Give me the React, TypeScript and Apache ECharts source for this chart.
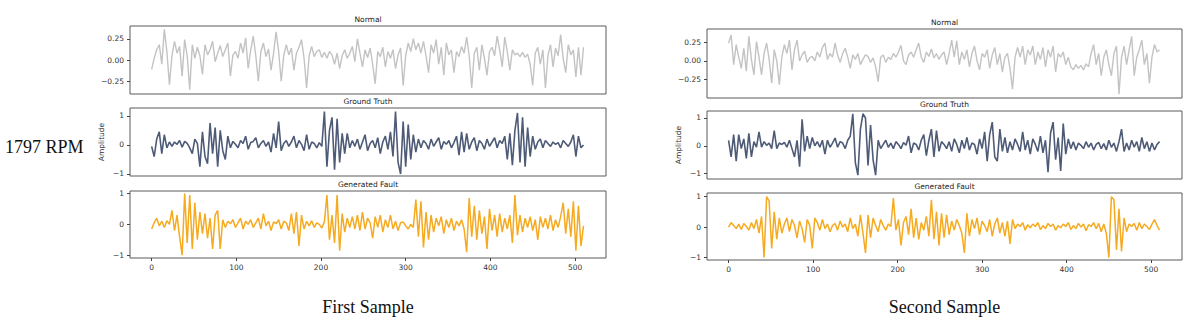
import React, { useEffect, useRef } from "react";
import * as echarts from "echarts";

// sample spacing of the digitised signals (one value every STEP samples, 0..510)
const STEP = 3;
const xTicks = [0, 100, 200, 300, 400, 500];
const normalTicks = [-0.25, 0, 0.25];
const unitTicks = [-1, 0, 1];
const subplotTitles = ["Normal", "Ground Truth", "Generated Fault"];
const rowLabel = "1797 RPM";
const sampleLabels = ["First Sample", "Second Sample"];
const yName = "Amplitude";

const firstNormal = [
  -0.11, 0.02, 0.12, 0.18, -0.05, 0.36, 0.10, -0.29, 0.05, 0.22,
  0.08, 0.16, -0.19, 0.24, 0.05, -0.35, 0.18, 0.02, 0.15, 0.05,
  -0.17, 0.18, 0.06, 0.12, 0.22, -0.02, 0.08, 0.17, 0.04, 0.12,
  0.20, -0.19, 0.06, 0.10, 0.02, 0.20, 0.08, 0.26, -0.10, 0.12,
  0.28, 0.05, -0.25, 0.10, 0.20, 0.04, 0.13, -0.12, 0.08, 0.33,
  0.10, -0.25, 0.05, 0.18, 0.06, 0.14, -0.12, 0.08, 0.15, 0.24,
  0.02, -0.33, 0.05, 0.16, 0.04, 0.10, 0.12, 0.03, 0.09, 0.02,
  0.10, 0.06, -0.05, 0.08, -0.10, 0.05, 0.12, 0.02, 0.08, 0.16,
  -0.02, 0.25, 0.08, -0.08, 0.12, 0.03, 0.14, -0.05, -0.28, 0.10,
  0.04, 0.15, -0.08, 0.10, 0.02, 0.12, -0.10, 0.06, 0.14, -0.30,
  0.05, 0.20, 0.10, 0.25, 0.12, 0.20, 0.08, 0.22, 0.05, -0.15,
  0.18, 0.08, 0.24, -0.05, 0.15, -0.18, 0.20, 0.06, 0.12, -0.15,
  0.10, 0.04, 0.16, 0.08, 0.27, 0.05, -0.33, 0.08, 0.15, -0.12,
  0.18, 0.02, -0.18, 0.10, 0.15, 0.05, 0.28, 0.12, -0.08, 0.27,
  0.10, -0.12, 0.12, 0.06, 0.08, 0.04, 0.09, 0.03, 0.07, -0.05,
  -0.30, 0.08, 0.15, -0.05, 0.12, -0.33, 0.05, 0.18, -0.08, 0.14,
  0.05, 0.30, 0.02, -0.15, 0.18, 0.06, 0.12, -0.20, 0.15, -0.18,
  0.15,
];

const firstTruth = [
  -0.05, -0.40, 0.20, 0.45, -0.30, 0.35, -0.10, 0.10, -0.05, 0.10,
  0.02, 0.15, -0.08, 0.12, 0.05, -0.10, -0.30, 0.20, 0.05, -0.75,
  0.45, -0.40, -0.65, 0.75, -0.30, 0.60, -0.75, 0.50, -0.20, -0.50,
  0.30, -0.10, 0.12, 0.02, -0.10, 0.15, 0.05, 0.30, -0.15, 0.08,
  0.12, 0.25, -0.10, 0.05, 0.15, -0.05, 0.10, -0.25, 0.40, -0.10,
  0.80, -0.20, 0.05, 0.15, -0.05, 0.10, 0.30, -0.10, 0.15, 0.02,
  -0.20, 0.35, -0.15, 0.10, 0.05, -0.10, 0.08, -0.05, 1.15, -0.75,
  0.50, 0.95, -0.85, 0.90, -0.60, 0.40, -0.30, 0.40, -0.10, 0.15,
  -0.05, 0.20, -0.15, 0.10, 0.35, -0.20, 0.05, 0.15, -0.10, 0.25,
  -0.30, 0.10, 0.30, -0.15, 0.45, -0.40, 1.15, -0.60, -1.00, 0.80,
  -0.75, 0.70, -0.50, 0.35, -0.25, 0.20, -0.10, 0.15, 0.05, -0.15,
  0.20, -0.05, 0.10, 0.25, -0.15, 0.12, 0.02, 0.15, -0.10, 0.08,
  0.30, -0.35, 0.45, -0.25, 0.40, -0.15, 0.10, 0.25, -0.20, 0.15,
  0.05, -0.15, 0.20, -0.05, 0.10, 0.25, -0.10, 0.15, 0.05, 0.30,
  -0.50, 0.40, -0.70, 0.50, 1.10, -0.60, 0.95, -0.75, 0.60, -0.40,
  0.30, -0.15, 0.10, 0.20, -0.10, 0.15, 0.05, -0.05, 0.10, 0.02,
  0.08, -0.10, 0.15, 0.05, -0.05, 0.10, 0.35, -0.40, 0.30, -0.10,
  0.00,
];

const firstFault = [
  -0.15, 0.05, 0.20, -0.05, 0.10, -0.10, 0.12, 0.00, 0.45, -0.20,
  0.30, -0.40, -1.00, 1.00, -0.60, 0.95, -0.80, 0.70, -0.50, 0.40,
  -0.30, 0.35, -0.45, 0.20, -0.80, 0.30, 0.45, -0.80, 0.15, -0.10,
  0.10, 0.02, 0.15, -0.10, 0.05, 0.20, -0.15, 0.10, 0.00, 0.15,
  -0.10, 0.05, 0.20, -0.15, 0.35, -0.05, 0.10, -0.20, 0.08, 0.02,
  0.15, -0.15, 0.10, 0.05, -0.20, 0.35, -0.30, 0.40, -0.70, 0.30,
  -0.15, 0.10, -0.05, 0.12, -0.10, 0.05, 0.00, -0.12, 0.08, 0.95,
  -0.50, 0.30, -0.60, 0.95, -0.85, 0.35, -0.25, 0.20, -0.10, 0.25,
  -0.15, 0.30, -0.20, 0.40, -0.15, 0.20, 0.05, -0.45, 0.25, -0.10,
  0.30, -0.25, 0.15, -0.10, 0.30, -0.15, 0.10, -0.20, 0.05, 0.08,
  -0.05, -0.15, 0.00, -0.10, 0.80, -0.40, 0.75, -0.75, 0.40, -0.50,
  0.30, -0.25, 0.20, -0.05, 0.25, -0.30, 0.15, -0.10, 0.20, -0.20,
  0.10, -0.05, 0.15, -0.15, -0.90, 0.85, -0.40, 0.60, -0.50, 0.45,
  -0.30, 0.25, -0.80, 0.50, -0.20, 0.30, -0.40, 0.35, -0.25, 0.20,
  -0.15, 0.30, -0.60, 0.95, -0.35, 0.30, -0.25, 0.20, -0.10, 0.25,
  -0.20, 0.15, -0.50, 0.25, -0.10, 0.20, -0.15, 0.30, -0.20, 0.15,
  -0.10, 0.25, 0.70, -0.30, 0.50, -0.40, 0.75, -0.85, 0.60, -0.70,
  -0.05,
];

const secondNormal = [
  0.24, 0.35, -0.05, 0.22, 0.05, -0.10, 0.17, -0.14, 0.33, 0.02,
  -0.19, 0.26, 0.05, -0.19, 0.10, 0.24, 0.02, -0.30, 0.15, 0.00,
  -0.32, 0.05, 0.22, 0.10, 0.28, -0.12, 0.15, 0.28, 0.00, 0.08,
  0.13, -0.02, 0.04, 0.06, 0.00, 0.12, 0.05, 0.18, 0.24, 0.02,
  0.10, 0.05, 0.24, 0.08, -0.02, 0.10, 0.17, 0.05, -0.10, 0.08,
  0.02, 0.10, -0.05, 0.02, 0.08, 0.06, -0.02, 0.04, -0.08, -0.28,
  0.05, 0.08, -0.02, 0.05, 0.02, 0.10, 0.05, 0.12, 0.21, 0.00,
  -0.05, 0.08, 0.12, 0.05, 0.15, 0.24, 0.05, -0.02, 0.12, 0.06,
  0.16, 0.04, 0.10, 0.02, 0.08, 0.12, -0.05, 0.10, 0.28, 0.05,
  0.27, -0.05, 0.12, 0.02, 0.15, -0.08, 0.10, 0.20, 0.00, -0.12,
  0.10, 0.05, 0.15, -0.10, 0.08, 0.18, -0.05, 0.10, -0.15, 0.05,
  0.10, -0.10, -0.38, 0.05, 0.18, 0.05, 0.20, -0.05, 0.15, 0.08,
  0.20, -0.05, 0.12, 0.02, 0.18, -0.08, 0.15, 0.05, 0.20, -0.15,
  0.10, 0.05, 0.12, -0.05, 0.05, -0.08, -0.12, -0.05, -0.10, -0.06,
  -0.12, -0.04, -0.08, 0.10, 0.22, -0.05, 0.10, -0.20, 0.05, 0.15,
  -0.05, -0.20, 0.10, 0.20, -0.45, 0.05, 0.20, -0.05, 0.15, 0.33,
  -0.20, 0.05, 0.15, 0.28, -0.05, 0.10, -0.30, 0.05, 0.22, 0.12,
  0.15,
];

const secondTruth = [
  0.20, -0.40, 0.40, -0.55, 0.40, -0.10, 0.25, -0.45, 0.45, -0.40,
  0.15, -0.05, 0.50, -0.05, 0.15, 0.02, 0.10, -0.10, 0.55, -0.10,
  0.10, 0.05, 0.12, -0.05, 0.20, -0.10, -0.40, 0.20, -0.75, 0.95,
  -0.20, 0.35, -0.10, 0.30, 0.00, 0.15, -0.05, 0.20, -0.30, 0.20,
  -0.05, 0.10, 0.28, -0.05, 0.15, 0.10, -0.10, 0.20, 0.35, 1.15,
  -0.60, -1.05, 0.60, 1.15, 1.00, -0.70, 0.75, -0.50, -1.05, 0.20,
  -0.10, 0.05, 0.20, -0.05, 0.10, -0.10, 0.15, 0.05, -0.10, 0.12,
  0.02, 0.35, -0.25, 0.10, 0.05, -0.15, 0.20, 0.40, -0.35, 0.20,
  0.60, -0.40, 0.55, -0.20, 0.15, 0.05, -0.10, 0.15, -0.20, 0.25,
  0.05, -0.25, 0.20, -0.10, 0.30, -0.15, 0.10, 0.05, -0.30, 0.25,
  -0.10, 0.50, -0.55, 0.40, 0.85, -0.40, -0.55, 0.60, -0.20, 0.30,
  -0.25, 0.15, -0.15, 0.25, 0.05, -0.20, 0.50, -0.15, 0.20, -0.30,
  0.25, 0.05, -0.20, 0.35, -0.25, 0.20, -0.95, 0.45, 0.85, -0.50,
  0.30, -0.90, 0.80, -0.30, 0.25, -0.10, 0.15, -0.15, 0.10, 0.02,
  -0.10, 0.15, -0.05, 0.10, -0.15, 0.05, 0.12, -0.10, 0.08, -0.15,
  0.20, -0.05, 0.10, -0.20, 0.15, 0.60, -0.20, 0.10, -0.15, 0.20,
  -0.05, 0.15, -0.20, 0.30, -0.10, 0.15, -0.20, 0.10, -0.15, 0.05,
  0.15,
];

const secondFault = [
  0.00, 0.15, 0.05, -0.05, 0.10, -0.08, 0.12, 0.02, -0.10, 0.15,
  -0.05, 0.25, -0.20, 0.35, -1.00, 1.00, 0.85, -0.70, 0.50, -0.40,
  0.30, -0.20, 0.10, 0.30, -0.15, 0.25, 0.05, -0.35, 0.20, -0.05,
  -0.50, 0.25, 0.05, -0.70, 0.30, 0.15, -0.10, 0.25, -0.05, 0.10,
  -0.15, 0.05, 0.12, -0.10, 0.20, 0.00, 0.10, -0.15, 0.30, -0.05,
  0.10, -0.30, 0.40, -0.20, -0.85, 0.40, -0.35, 0.30, 0.05, -0.15,
  0.25, 0.05, -0.10, 0.10, 0.02, 0.95, -0.10, 0.25, -0.60, 0.15,
  0.35, -0.25, 0.60, -0.35, 0.30, -0.40, 0.15, -0.10, 0.35, -0.30,
  0.90, -0.40, 0.50, -0.60, 0.45, -0.35, 0.40, -0.25, 0.20, -0.10,
  0.25, 0.05, -0.20, -0.85, 0.45, -0.30, 0.25, -0.05, 0.30, -0.25,
  0.20, 0.05, -0.15, 0.25, -0.30, 0.10, 0.30, -0.20, 0.15, -0.30,
  0.20, -0.55, 0.25, -0.05, 0.10, 0.02, 0.15, -0.10, 0.08, -0.02,
  0.10, 0.02, 0.15, -0.08, 0.05, -0.05, 0.12, 0.02, 0.10, -0.10,
  0.05, -0.02, 0.10, 0.02, 0.15, -0.08, 0.05, -0.05, 0.12, 0.00,
  0.10, -0.12, 0.08, 0.02, 0.15, -0.05, 0.12, -0.15, 0.10, -0.20,
  -1.00, 1.00, 0.90, -0.75, 0.60, -0.80, 0.30, -0.15, 0.10, 0.02,
  0.12, -0.10, 0.15, -0.05, 0.10, 0.02, -0.08, 0.10, 0.25, 0.05,
  -0.10,
];

const seriesColors = ["#c3c3c3", "#4e5b77", "#f6aa1f"];
const seriesWidths = [1.4, 1.6, 1.5];

const FONT = "DejaVu Sans";
const SERIF = "Liberation Serif";

function minusFmt(v: number, digits: number) {
  const s = Math.abs(v).toFixed(digits);
  return v < 0 ? "\u2212" + s : s;
}

export default function App() {
  const ref = useRef<HTMLDivElement>(null);
  useEffect(() => {
    document.body.style.margin = "0";
    const chart = echarts.init(ref.current!, undefined, { renderer: "svg" });

    const panels = [
      {
        left: 130,
        width: 476,
        tops: [26, 108, 191],
        heights: [68, 68, 67],
        yr: [
          [-0.4, 0.4],
          [-1.07, 1.27],
          [-1.09, 1.08],
        ],
        data: [firstNormal, firstTruth, firstFault],
      },
      {
        left: 707,
        width: 475,
        tops: [29, 111, 193],
        heights: [69, 68, 67],
        yr: [
          [-0.5, 0.43],
          [-1.19, 1.25],
          [-1.08, 1.12],
        ],
        data: [secondNormal, secondTruth, secondFault],
      },
    ];

    const grid: any[] = [];
    const xAxis: any[] = [];
    const yAxis: any[] = [];
    const series: any[] = [];
    const graphic: any[] = [];

    panels.forEach((p, pi) => {
      for (let r = 0; r < 3; r++) {
        const idx = grid.length;
        grid.push({
          left: p.left,
          top: p.tops[r],
          width: p.width,
          height: p.heights[r],
          show: true,
          borderColor: "#5a5a5a",
          borderWidth: 1,
          backgroundColor: "transparent",
        });
        const bottom = r === 2;
        xAxis.push({
          type: "value",
          gridIndex: idx,
          position: "bottom",
          min: -25.55,
          max: 536.55,
          axisLine: { show: false, onZero: false },
          splitLine: { show: false },
          axisTick: {
            show: bottom,
            customValues: xTicks,
            length: 3,
            lineStyle: { color: "#444", width: 1 },
          },
          axisLabel: {
            show: bottom,
            customValues: xTicks,
            margin: 5,
            fontSize: 7.5,
            fontFamily: FONT,
            color: "#333",
            formatter: (v: number) => String(v),
          },
        });
        const ticks = r === 0 ? normalTicks : unitTicks;
        yAxis.push({
          type: "value",
          gridIndex: idx,
          position: "left",
          min: p.yr[r][0],
          max: p.yr[r][1],
          axisLine: { show: false, onZero: false },
          splitLine: { show: false },
          name: r === 1 ? yName : "",
          nameLocation: "middle",
          nameGap: 25,
          nameRotate: 90,
          nameTextStyle: { fontSize: 7.5, fontFamily: FONT, color: "#333" },
          axisTick: {
            show: true,
            customValues: ticks,
            length: 3,
            lineStyle: { color: "#444", width: 1 },
          },
          axisLabel: {
            customValues: ticks,
            margin: 6,
            fontSize: 7.5,
            fontFamily: FONT,
            color: "#333",
            formatter: (v: number) => minusFmt(v, r === 0 ? 2 : 0),
          },
        });
        series.push({
          type: "line",
          xAxisIndex: idx,
          yAxisIndex: idx,
          data: p.data[r].map((v, i) => [i * STEP, v]),
          showSymbol: false,
          symbol: "none",
          lineStyle: { color: seriesColors[r], width: seriesWidths[r] },
          silent: true,
        });
        graphic.push({
          type: "text",
          x: p.left + p.width / 2,
          y: p.tops[r] - 7,
          style: {
            text: subplotTitles[r],
            fontSize: 7.5,
            fontFamily: FONT,
            fill: "#222",
            align: "center",
            verticalAlign: "middle",
          },
        });
      }
      graphic.push({
        type: "text",
        x: p.left + p.width / 2,
        y: 307,
        style: {
          text: sampleLabels[pi],
          fontSize: 18,
          fontFamily: SERIF,
          fill: "#111",
          align: "center",
          verticalAlign: "middle",
        },
      });
    });

    graphic.push({
      type: "text",
      x: 5,
      y: 147,
      style: {
        text: rowLabel,
        fontSize: 18,
        fontFamily: SERIF,
        fill: "#111",
        align: "left",
        verticalAlign: "middle",
      },
    });

    chart.setOption({
      animation: false,
      backgroundColor: "#ffffff",
      grid,
      xAxis,
      yAxis,
      series,
      graphic,
    });
    return () => chart.dispose();
  }, []);
  return <div ref={ref} style={{ width: 1196, height: 330 }} />;
}
